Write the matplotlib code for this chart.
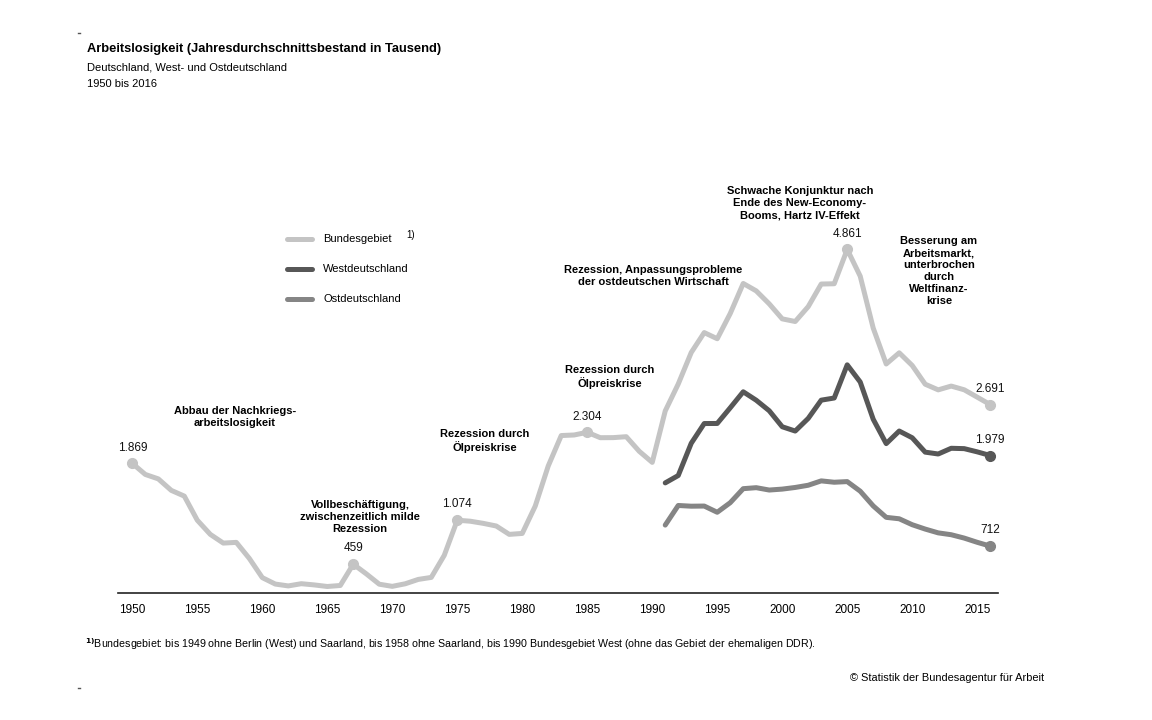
import matplotlib.pyplot as plt
import numpy as np

plt.rcParams['font.family'] = ['Liberation Sans', 'DejaVu Sans']

# Arbeitslose, Jahresdurchschnitt in Tausend
years_bg = list(range(1950, 2017))
bundesgebiet = [1869, 1714, 1652, 1491, 1411, 1074, 876, 754, 764, 540,
                271, 181, 155, 186, 169, 147, 161, 459, 324, 179,
                149, 185, 246, 274, 583, 1074, 1060, 1030, 993, 876,
                889, 1272, 1833, 2258, 2266, 2304, 2228, 2229, 2242, 2038,
                1883, 2602, 2979, 3419, 3698, 3612, 3965, 4385, 4281, 4100,
                3890, 3853, 4061, 4377, 4381, 4861, 4487, 3761, 3259, 3415,
                3238, 2976, 2897, 2950, 2898, 2795, 2691]
years_ow = list(range(1991, 2017))
west = [1596, 1699, 2150, 2426, 2427, 2646, 2870, 2752, 2605, 2381,
        2321, 2498, 2753, 2783, 3247, 3007, 2486, 2145, 2321, 2227,
        2026, 2000, 2080, 2075, 2030, 1979]
ost = [1006, 1280, 1270, 1272, 1185, 1319, 1515, 1529, 1496, 1509,
       1532, 1563, 1624, 1605, 1614, 1480, 1274, 1114, 1094, 1011,
       950, 897, 871, 824, 765, 712]
tick_years = list(range(1950, 2016, 5))

c_bg, c_w, c_o = '#c4c4c4', '#575757', '#858585'
lw = 3.6

W, H = 1152, 720
fig = plt.figure(figsize=(W / 100, H / 100), dpi=100)

def fx(x):
    return x / W

def fy(y):
    return 1 - y / H

ax = fig.add_axes([fx(118), fy(593), fx(998) - fx(118), fy(180) - fy(593)])
ax.set_xlim(1948.9, 2016.6)
ax.set_ylim(56, 5832)

ax.plot(years_bg, bundesgebiet, color=c_bg, lw=lw, solid_joinstyle='round', solid_capstyle='round')
ax.plot(years_ow, west, color=c_w, lw=lw, solid_joinstyle='round', solid_capstyle='round')
ax.plot(years_ow, ost, color=c_o, lw=lw, solid_joinstyle='round', solid_capstyle='round')

# hervorgehobene Punkte mit Werten
def mark(year, yrs, vals, color, dy=7):
    v = vals[yrs.index(year)]
    ax.plot(year, v, 'o', color=color, ms=7, mec=color)
    lab = f'{v:,}'.replace(',', '.')
    ax.annotate(lab, (year, v), xytext=(0, dy), textcoords='offset points',
                ha='center', va='bottom', fontsize=8.5, color='#111111')

for yr in [1950, 1967, 1975, 1985, 2005]:
    mark(yr, years_bg, bundesgebiet, c_bg)
mark(2016, years_bg, bundesgebiet, c_bg)
mark(2016, years_ow, west, c_w)
mark(2016, years_ow, ost, c_o)

for s in ['top', 'right', 'left']:
    ax.spines[s].set_visible(False)
ax.spines['bottom'].set_color('#222222')
ax.spines['bottom'].set_linewidth(1.2)
ax.set_yticks([])
ax.set_xticks(tick_years)
ax.set_xticklabels([str(t) for t in tick_years], fontsize=8.5)
ax.tick_params(axis='x', length=0, pad=8)

# Titel
fig.text(fx(87), fy(49), 'Arbeitslosigkeit (Jahresdurchschnittsbestand in Tausend)',
         fontsize=9.3, fontweight='bold', va='center')
fig.text(fx(87), fy(67), 'Deutschland, West- und Ostdeutschland', fontsize=8, va='center')
fig.text(fx(87), fy(84), '1950 bis 2016', fontsize=8, va='center')

# Eckmarken
fig.add_artist(plt.Line2D([fx(78), fx(80)], [fy(33), fy(33)], color='#555555', lw=1))
fig.add_artist(plt.Line2D([fx(78), fx(80)], [fy(688), fy(688)], color='#555555', lw=1))

# Legende
for yy, col, lab in [(239, c_bg, 'Bundesgebiet'), (269, c_w, 'Westdeutschland'), (299, c_o, 'Ostdeutschland')]:
    fig.add_artist(plt.Line2D([fx(287), fx(312)], [fy(yy), fy(yy)], color=col, lw=lw, solid_capstyle='round'))
    fig.text(fx(323), fy(yy), lab, fontsize=8, va='center')
fig.text(fx(406), fy(235), '1)', fontsize=7, va='center')

# Erlaeuterungen
notes = [
    (235, 417, 'Abbau der Nachkriegs-\narbeitslosigkeit'),
    (360, 517, 'Vollbeschäftigung,\nzwischenzeitlich milde\nRezession'),
    (485, 441, 'Rezession durch\nÖlpreiskrise'),
    (610, 377, 'Rezession durch\nÖlpreiskrise'),
    (653, 276, 'Rezession, Anpassungsprobleme\nder ostdeutschen Wirtschaft'),
    (800, 203, 'Schwache Konjunktur nach\nEnde des New-Economy-\nBooms, Hartz IV-Effekt'),
    (939, 271, 'Besserung am\nArbeitsmarkt,\nunterbrochen\ndurch\nWeltfinanz-\nkrise'),
]
for x, y, t in notes:
    fig.text(fx(x), fy(y), t, fontsize=8, fontweight='bold', ha='center', va='center',
             linespacing=1.25)

fig.text(fx(85), fy(644), r'$^{\mathbf{1)}}$' + 'Bundesgebiet: bis 1949 ohne Berlin (West) und Saarland, bis 1958 ohne Saarland, '
         'bis 1990 Bundesgebiet West (ohne das Gebiet der ehemaligen DDR).', fontsize=7.7, va='center')
fig.text(fx(1044), fy(678), '© Statistik der Bundesagentur für Arbeit', fontsize=7.9, ha='right', va='center')

fig.savefig('out.png', dpi=100, facecolor='white')
